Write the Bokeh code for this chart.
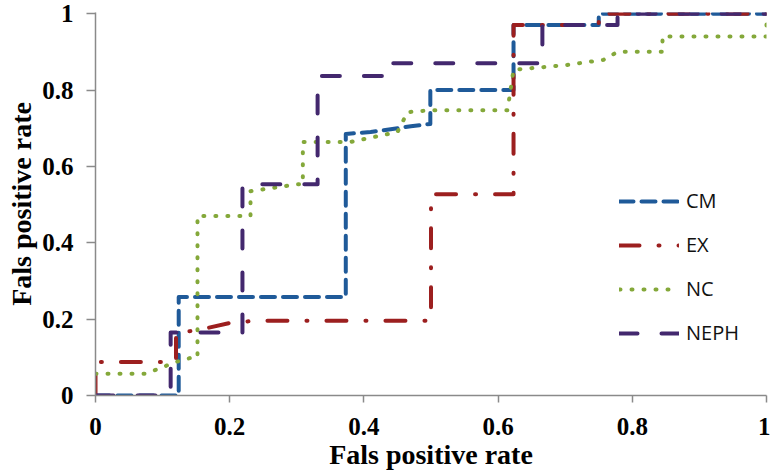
from bokeh.plotting import figure
from bokeh.models import FixedTicker, Range1d
from bokeh.embed import file_html
from bokeh.resources import INLINE

# ---- data ----
tick_values = [0, 0.2, 0.4, 0.6, 0.8, 1]
tick_labels = ["0", "0.2", "0.4", "0.6", "0.8", "1"]

cm_x = [0, 0.124, 0.124, 0.373, 0.373, 0.41, 0.47, 0.499, 0.499, 0.623, 0.623, 0.75, 0.75, 1]
cm_y = [0, 0, 0.258, 0.258, 0.685, 0.69, 0.705, 0.711, 0.80, 0.80, 0.97, 0.97, 1.0, 1.0]

ex_x = [0, 0, 0.12, 0.12, 0.15, 0.2, 0.24, 0.5, 0.5, 0.623, 0.623, 0.75, 0.75, 1]
ex_y = [0, 0.088, 0.088, 0.165, 0.17, 0.19, 0.196, 0.196, 0.527, 0.527, 0.97, 0.97, 1.0, 1.0]

nc_x = [0, 0.075, 0.12, 0.145, 0.152, 0.152, 0.231, 0.231, 0.30, 0.309, 0.309, 0.38, 0.45,
        0.465, 0.5, 0.614, 0.623, 0.7, 0.757, 0.778, 0.845, 0.845, 1, 1]
nc_y = [0.057, 0.057, 0.088, 0.1, 0.1, 0.47, 0.47, 0.535, 0.553, 0.553, 0.664, 0.664, 0.69,
        0.742, 0.747, 0.747, 0.853, 0.865, 0.879, 0.90, 0.90, 0.94, 0.94, 0.975]

neph_x = [0, 0.112, 0.112, 0.219, 0.219, 0.331, 0.331, 0.443, 0.443, 0.666, 0.666, 0.778, 0.778, 1]
neph_y = [0, 0, 0.165, 0.165, 0.553, 0.553, 0.837, 0.837, 0.87, 0.87, 0.97, 0.97, 1.0, 1.0]

series = [
    ("CM", cm_x, cm_y, "#1f5a99", "14 8"),
    ("EX", ex_x, ex_y, "#9c1f1f", "20 19 1 19"),
    ("NC", nc_x, nc_y, "#84a83a", "1 11"),
    ("NEPH", neph_x, neph_y, "#43286e", "18 24"),
]

p = figure(frame_width=671, frame_height=383, output_backend="svg", toolbar_location=None,
           x_range=Range1d(0, 1), y_range=Range1d(0, 1.003),
           min_border_left=95, min_border_right=4, min_border_top=12, min_border_bottom=60)

for name, xs, ys, color, dash in series:
    p.line(xs, ys, line_color=color, line_width=4, line_dash=dash,
           line_cap="round", line_join="round", legend_label=name)

p.xgrid.visible = False
p.ygrid.visible = False
p.outline_line_color = None
p.background_fill_color = "white"

for ax in (p.xaxis[0], p.yaxis[0]):
    ax.ticker = FixedTicker(ticks=tick_values)
    ax.major_label_overrides = {v: l for v, l in zip(tick_values, tick_labels)}
    ax.axis_line_color = "#8a8a8a"
    ax.axis_line_width = 1.5
    ax.major_tick_line_color = "#8a8a8a"
    ax.major_tick_line_width = 1.5
    ax.major_tick_in = 0
    ax.minor_tick_in = 0
    ax.minor_tick_out = 0
    ax.major_label_text_font = "Liberation Serif"
    ax.major_label_text_font_style = "bold"
    ax.major_label_text_font_size = "25px"
    ax.major_label_text_color = "black"
    ax.axis_label = "Fals positive rate"
    ax.axis_label_text_font = "Liberation Serif"
    ax.axis_label_text_font_style = "bold"
    ax.axis_label_text_font_size = "28px"
    ax.axis_label_text_color = "black"

p.xaxis.major_tick_out = 7
p.yaxis.major_tick_out = 9
p.xaxis.major_label_standoff = 15
p.yaxis.major_label_standoff = 13
p.xaxis.axis_label_standoff = 1
p.yaxis.axis_label_standoff = 2

lg = p.legend[0]
lg.location = (524, 49)
lg.padding = 0
lg.margin = 0
lg.spacing = 17
lg.glyph_width = 60
lg.glyph_height = 20
lg.label_height = 20
lg.label_standoff = 7
lg.label_text_font = "Open Sans"
lg.label_text_font_size = "20px"
lg.label_text_color = "#111111"
lg.border_line_alpha = 0
lg.background_fill_alpha = 0

open("out.html", "w").write(file_html(p, INLINE))
